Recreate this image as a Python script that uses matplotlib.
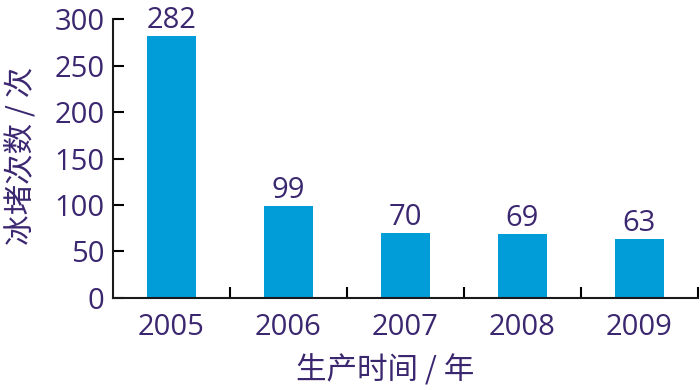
import matplotlib
matplotlib.use('Agg')
import matplotlib.pyplot as plt
import numpy as np

# data
years = ['2005', '2006', '2007', '2008', '2009']
counts = [282, 99, 70, 69, 63]

text_color = '#3b2770'
bar_color = '#009dd8'

plt.rcParams['font.family'] = ['Open Sans', 'Noto Sans CJK SC', 'DejaVu Sans']

fig = plt.figure(figsize=(7, 3.9), dpi=100)
ax = fig.add_axes([0.161, 0.236, 0.836, 0.715])

x = np.arange(len(years))
bars = ax.bar(x, counts, width=0.42, color=bar_color, zorder=2)

# value labels on top of bars
for xi, v in zip(x, counts):
    ax.text(xi, v + 1, str(v), ha='center', va='bottom', fontsize=21, color=text_color)

ax.set_xlim(-0.5, len(years) - 0.5)
ax.set_ylim(0, 300)
ax.set_yticks(np.arange(0, 301, 50))
ax.set_xticks(x)
ax.set_xticklabels(years)
ax.tick_params(axis='y', direction='in', length=8, width=1.5, labelsize=21,
               labelcolor=text_color, pad=6)
ax.tick_params(axis='x', length=0, labelsize=21, labelcolor=text_color, pad=11)

# ticks at the category boundaries pointing up
ax.set_xticks(np.arange(0.5, len(years), 1.0), minor=True)
ax.tick_params(axis='x', which='minor', direction='in', length=8, width=1.5)

for s in ['top', 'right']:
    ax.spines[s].set_visible(False)
for s in ['left', 'bottom']:
    ax.spines[s].set_linewidth(1.5)
    ax.spines[s].set_color('#1a1a1a')

cjk = ['Noto Sans CJK SC', 'DejaVu Sans']
fig.text(0.03, 0.60, '冰堵次数 / 次', rotation=90, ha='center', va='center',
         fontsize=22, color=text_color, family=cjk)
fig.text(0.55, 0.05, '生产时间 / 年', ha='center', va='center',
         fontsize=22, color=text_color, family=cjk)

fig.savefig('out.png', dpi=100)
